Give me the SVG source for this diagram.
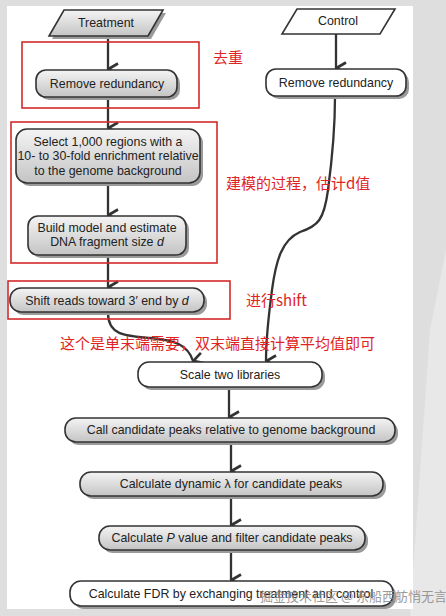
<svg xmlns="http://www.w3.org/2000/svg" width="446" height="616" viewBox="0 0 446 616">
<defs>
<linearGradient id="g" x1="0" y1="0" x2="0" y2="1">
<stop offset="0" stop-color="#f4f4f4"/>
<stop offset="1" stop-color="#c4c4c4"/>
</linearGradient>
<marker id="ah" viewBox="0 0 14 14" refX="7" refY="13" markerWidth="14" markerHeight="14" markerUnits="userSpaceOnUse" orient="auto-start-reverse">
<path d="M1.5,3 L7,12.5 L12.5,3" fill="none" stroke="#333" stroke-width="2.6" stroke-linejoin="miter"/>
</marker>
</defs>
<style>
.bg{fill:#dedede}
.panel{fill:#ffffff}
.box{stroke:#333;stroke-width:1.6}
.gray{fill:url(#g)}
.white{fill:#ffffff}
.sh{fill:#9a9a9a}
.t{font-family:"Liberation Sans",Arial,sans-serif;font-size:12.4px;fill:#222;text-anchor:middle}
.red{fill:none;stroke:#d42a2a;stroke-width:1.6}
.rt{font-family:"Noto Sans CJK SC","Liberation Sans",sans-serif;font-size:15px;fill:#e02424}
.wm{font-family:"Noto Sans CJK SC",sans-serif;font-size:13px;fill:#8a8a8a;opacity:0.85}
.c{fill:none;stroke:#333;stroke-width:2.3}
</style>
<rect class="bg" x="0" y="0" width="446" height="616"/>
<polygon points="430,330 446,250 446,616 410,616" fill="#e8e8e8"/>
<rect class="panel" x="7" y="6" width="406" height="603"/>

<g id="connectors">
<line class="c" x1="108" y1="36" x2="108" y2="69" marker-end="url(#ah)"/>
<line class="c" x1="108" y1="98" x2="108" y2="128" marker-end="url(#ah)"/>
<line class="c" x1="108" y1="184" x2="108" y2="215" marker-end="url(#ah)"/>
<line class="c" x1="108" y1="256" x2="108" y2="287" marker-end="url(#ah)"/>
<line class="c" x1="336" y1="34" x2="336" y2="68" marker-end="url(#ah)"/>
<path class="c" d="M335,97 C335,130 332,160 328,190 C324,220 318,226 300,232 C282,240 276,260 272,290 C268,320 266,340 266,361" marker-end="url(#ah)"/>
<path class="c" d="M108,313 C108,335 125,336 150,338 C175,340 188,345 193,361" marker-end="url(#ah)"/>
<line class="c" x1="229" y1="388" x2="229" y2="417" marker-end="url(#ah)"/>
<line class="c" x1="231" y1="443" x2="231" y2="471" marker-end="url(#ah)"/>
<line class="c" x1="231" y1="497" x2="231" y2="525" marker-end="url(#ah)"/>
<line class="c" x1="231" y1="551" x2="231" y2="580" marker-end="url(#ah)"/>
</g>

<g id="treatment">
<polygon class="sh" points="67,13 166,13 151,39 52,39"/>
<polygon class="box gray" points="64,10 163,10 148,36 49,36"/>
<text class="t" x="106" y="27">Treatment</text>
</g>
<g id="control">
<polygon class="box white" points="297,9 395,9 380,34 282,34"/>
<text class="t" x="338" y="25">Control</text>
</g>

<g id="remove-t">
<rect class="sh" x="39" y="73" width="141" height="27" rx="10"/>
<rect class="box gray" x="36" y="70" width="141" height="27" rx="10"/>
<text class="t" x="107" y="87.5">Remove redundancy</text>
</g>
<g id="remove-c">
<rect class="sh" x="269" y="72" width="140" height="27" rx="10"/>
<rect class="box white" x="266" y="69" width="140" height="27" rx="10"/>
<text class="t" x="336" y="86.5">Remove redundancy</text>
</g>

<g id="select">
<rect class="sh" x="19" y="132" width="184" height="54" rx="11"/>
<rect class="box gray" x="16" y="129" width="184" height="54" rx="11"/>
<text class="t" x="108" y="145.5">Select 1,000 regions with a</text>
<text class="t" x="108" y="160">10- to 30-fold enrichment relative</text>
<text class="t" x="108" y="174.5">to the genome background</text>
</g>

<g id="build">
<rect class="sh" x="31" y="219" width="158" height="39" rx="10"/>
<rect class="box gray" x="28" y="216" width="158" height="39" rx="10"/>
<text class="t" x="107" y="231.5">Build model and estimate</text>
<text class="t" x="107" y="246">DNA fragment size <tspan font-style="italic">d</tspan></text>
</g>

<g id="shift">
<rect class="sh" x="13" y="291" width="194" height="24" rx="11"/>
<rect class="box gray" x="10" y="288" width="194" height="24" rx="11"/>
<text class="t" x="107" y="304.5">Shift reads toward 3′ end by <tspan font-style="italic">d</tspan></text>
</g>

<g id="scale">
<rect class="sh" x="141" y="365" width="184" height="25" rx="11"/>
<rect class="box white" x="138" y="362" width="184" height="25" rx="11"/>
<text class="t" x="230" y="378.5">Scale two libraries</text>
</g>

<g id="call">
<rect class="sh" x="68" y="421" width="330" height="24" rx="11"/>
<rect class="box gray" x="65" y="418" width="330" height="24" rx="11"/>
<text class="t" x="231" y="434">Call candidate peaks relative to genome background</text>
</g>

<g id="dynamic">
<rect class="sh" x="83" y="475" width="303" height="24" rx="11"/>
<rect class="box gray" x="80" y="472" width="303" height="24" rx="11"/>
<text class="t" x="231" y="488">Calculate dynamic λ for candidate peaks</text>
</g>

<g id="pvalue">
<rect class="sh" x="102" y="529" width="266" height="24" rx="11"/>
<rect class="box gray" x="99" y="526" width="266" height="24" rx="11"/>
<text class="t" x="232" y="542">Calculate <tspan font-style="italic">P</tspan> value and filter candidate peaks</text>
</g>

<g id="fdr">
<rect class="sh" x="73" y="584" width="323" height="25" rx="11"/>
<rect class="box white" x="70" y="581" width="323" height="25" rx="11"/>
<text class="t" x="231" y="597.5">Calculate FDR by exchanging treatment and control</text>
</g>

<g id="annotations">
<rect class="red" x="22" y="42" width="177" height="66"/>
<rect class="red" x="11" y="122" width="206" height="141"/>
<rect class="red" x="8" y="281" width="222" height="38"/>
<text class="rt" x="213" y="63">去重</text>
<text class="rt" x="226" y="189">建模的过程，估计d值</text>
<text class="rt" x="246" y="306">进行shift</text>
<text class="rt" x="60" y="349">这个是单末端需要，双末端直接计算平均值即可</text>
</g>
<text class="wm" x="260" y="601">掘金技术社区 @ 东船西舫悄无言</text>
</svg>
